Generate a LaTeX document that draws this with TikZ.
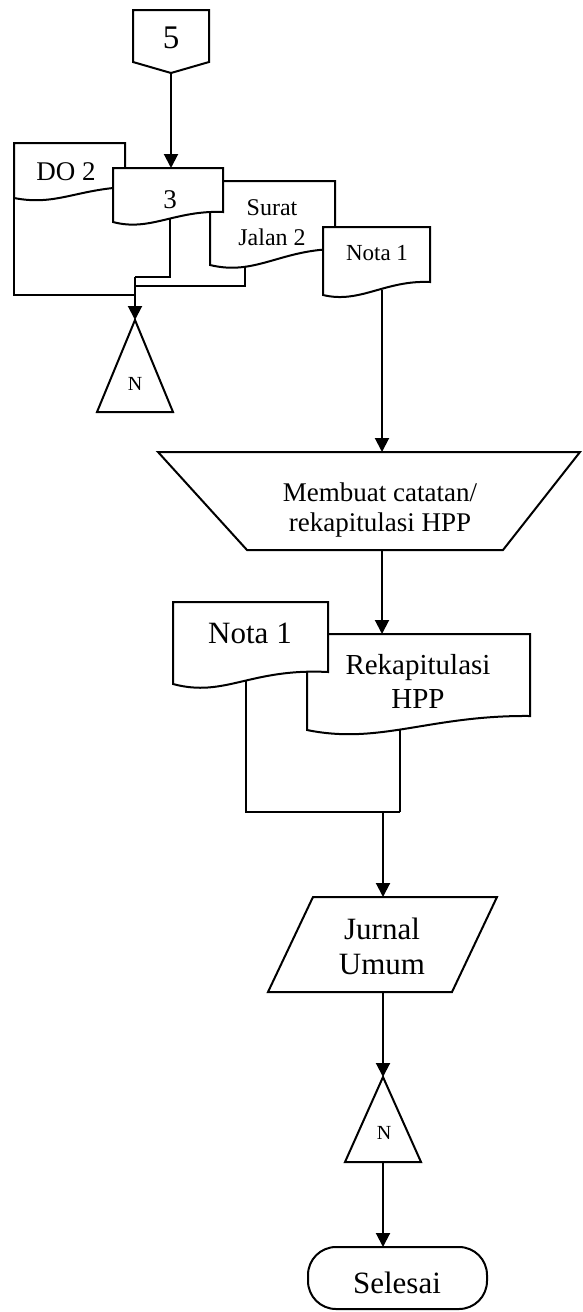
\documentclass[tikz,border=0pt]{standalone}
\usepackage{fontspec}
\setmainfont{Liberation Serif}
\usetikzlibrary{arrows.meta}
\begin{document}
\begin{tikzpicture}[x=1pt,y=-1pt,
  line/.style={line width=2pt, line join=miter},
  shp/.style={line width=2pt, line join=miter, fill=white},
  flow/.style={line width=2pt, -{Triangle[length=14pt,width=14pt]}},
  lbl/.style={inner sep=0pt, align=center}
]
\useasboundingbox (0,0) rectangle (582,1312);

% ---------- coordinates for connectors ----------
\coordinate (c5a) at (171,73);
\coordinate (d3top) at (171,168);
\coordinate (d3b) at (170,215);
\coordinate (j1) at (170,277);
\coordinate (j0) at (135,277);
\coordinate (sjb) at (245,262);
\coordinate (sj1) at (245,286);
\coordinate (sj0) at (135,286);
\coordinate (dob) at (14,198);
\coordinate (do1) at (14,295);
\coordinate (do0) at (135,295);
\coordinate (tri1top) at (135,320);
\coordinate (n1b) at (382,290);
\coordinate (trtop) at (382,452);
\coordinate (trbot) at (382,550);
\coordinate (rktop) at (382,634);
\coordinate (nbb) at (246,680);
\coordinate (nb1) at (246,812);
\coordinate (rkb) at (400,728);
\coordinate (rk1) at (400,812);
\coordinate (mg) at (383,812);
\coordinate (jutop) at (383,897);
\coordinate (jubot) at (383,992);
\coordinate (tri2top) at (383,1077);
\coordinate (tri2bot) at (383,1162);
\coordinate (seltop) at (383,1247);

% ---------- connectors ----------
\draw[line] (d3b) -- (j1) -- (j0);
\draw[line] (sjb) -- (sj1) -- (sj0);
\draw[line] (dob) -- (do1) -- (do0);
\draw[flow] (j0) -- (tri1top);
\draw[flow] (c5a) -- (d3top);
\draw[flow] (n1b) -- (trtop);
\draw[flow] (trbot) -- (rktop);
\draw[line] (nbb) -- (nb1) -- (rk1);
\draw[line] (rkb) -- (rk1);
\draw[flow] (mg) -- (jutop);
\draw[flow] (jubot) -- (tri2top);
\draw[flow] (tri2bot) -- (seltop);

% ---------- shapes ----------
% off-page connector 5
\draw[shp] (133,10) -- (209,10) -- (209,62) -- (171,73) -- (133,62) -- cycle;
% DO 2
\draw[shp] (14,198) -- (14,143) -- (125,143) -- (125,187) .. controls (75,190) and (55,206) .. (14,198) -- cycle;
% Surat Jalan 2
\draw[shp] (210,265) -- (210,181) -- (335,181) -- (335,249) .. controls (280,250) and (255,276) .. (210,265) -- cycle;
% 3
\draw[shp] (113,222) -- (113,168) -- (223,168) -- (223,212) .. controls (175,210) and (150,232) .. (113,222) -- cycle;
% Nota 1 (small)
\draw[shp] (323,295) -- (323,227) -- (430,227) -- (430,282) .. controls (385,280) and (360,304) .. (323,295) -- cycle;
% triangle 1
\draw[shp] (135,320) -- (173,412) -- (97,412) -- cycle;
% manual operation
\draw[shp] (158,452) -- (580,452) -- (503,550) -- (247,550) -- cycle;
% Rekapitulasi HPP
\draw[shp] (307,730) -- (307,634) -- (530,634) -- (530,716) .. controls (430,715) and (380,745) .. (307,730) -- cycle;
% Nota 1 (big)
\draw[shp] (173,684) -- (173,602) -- (328,602) -- (328,672) .. controls (250,668) and (225,698) .. (173,684) -- cycle;
% Jurnal Umum
\draw[shp] (313,897) -- (497,897) -- (452,992) -- (268,992) -- cycle;
% triangle 2
\draw[shp] (383,1077) -- (421,1162) -- (345,1162) -- cycle;
% Selesai
\draw[shp, rounded corners=28pt] (308,1247) rectangle (487,1309);

% ---------- texts ----------
\node[lbl, font=\fontsize{33}{36}\selectfont] (t5) at (171,38) {5};
\node[lbl, font=\fontsize{27}{30}\selectfont] (tdo) at (66,172) {DO 2};
\node[lbl, font=\fontsize{27}{30}\selectfont] (t3) at (170,200) {3};
\node[lbl, font=\fontsize{24}{30}\selectfont] (tsj) at (272,223) {Surat\\Jalan 2};
\node[lbl, font=\fontsize{23}{27}\selectfont] (tn1) at (377,253) {Nota 1};
\node[lbl, font=\fontsize{20}{24}\selectfont] (tN1) at (135,384) {N};
\node[lbl, font=\fontsize{27}{30}\selectfont] (tmb) at (380,510) {Membuat catatan/\\rekapitulasi HPP};
\node[lbl, font=\fontsize{31}{35}\selectfont] (tn2) at (250,633) {Nota 1};
\node[lbl, font=\fontsize{29}{34}\selectfont] (trk) at (418,681) {Rekapitulasi\\HPP};
\node[lbl, font=\fontsize{31}{35}\selectfont] (tju) at (382,946) {Jurnal\\Umum};
\node[lbl, font=\fontsize{20}{24}\selectfont] (tN2) at (384,1133) {N};
\node[lbl, font=\fontsize{31}{35}\selectfont] (tsel) at (397,1283) {Selesai};
\end{tikzpicture}
\end{document}
